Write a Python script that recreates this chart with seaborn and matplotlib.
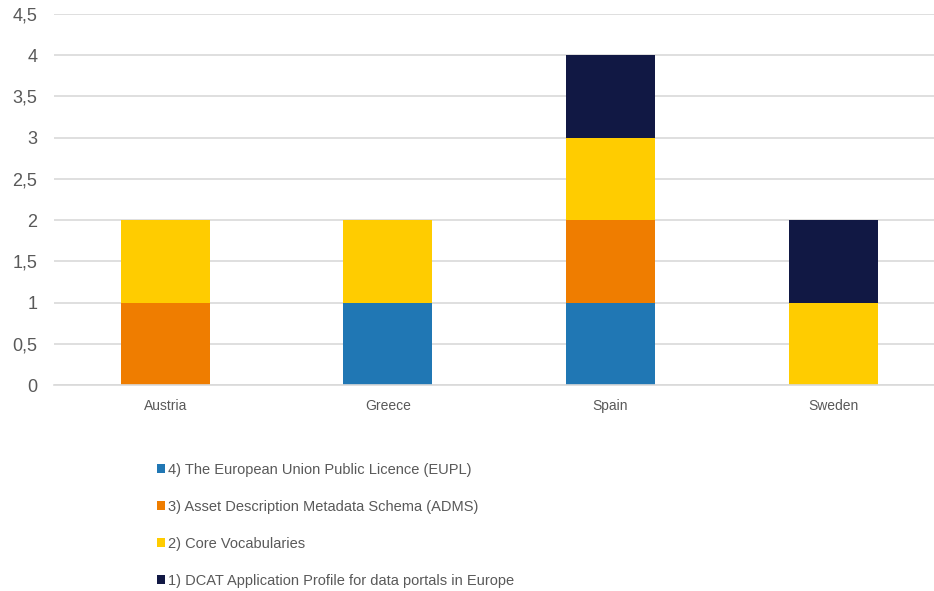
import matplotlib
matplotlib.use("Agg")
import matplotlib.pyplot as plt
from matplotlib.patches import Patch
from matplotlib.ticker import FuncFormatter, MultipleLocator
import seaborn as sns
import pandas as pd
import numpy as np

countries = ["Austria", "Greece", "Spain", "Sweden"]
eupl = [0, 1, 1, 0]
adms = [1, 0, 1, 0]
core_vocab = [1, 1, 1, 1]
dcat = [0, 0, 1, 1]

series_names = [
    "4) The European Union Public Licence (EUPL)",
    "3) Asset Description Metadata Schema (ADMS)",
    "2) Core Vocabularies",
    "1) DCAT Application Profile for data portals in Europe",
]
series_values = [eupl, adms, core_vocab, dcat]
series_colors = ["#2077B4", "#EF7D00", "#FFCC00", "#111844"]

sns.set_theme(style="white")
plt.rcParams["font.family"] = ["Liberation Sans", "DejaVu Sans"]

fig = plt.figure(figsize=(9.34, 5.91), dpi=100)
ax = fig.add_axes([54 / 934, (591 - 385) / 591, (934 - 54) / 934, (385 - 14) / 591])

bottom = np.zeros(len(countries))
for name, vals, color in zip(series_names, series_values, series_colors):
    df = pd.DataFrame({"country": countries, "value": vals})
    sns.barplot(data=df, x="country", y="value", color=color, width=0.4,
                bottom=bottom, ax=ax, saturation=1, edgecolor="none",
                linewidth=0, errorbar=None)
    bottom = bottom + np.array(vals)

ax.set_xlim(-0.5, 3.453)
ax.set_ylim(0, 4.5)
ax.yaxis.set_major_locator(MultipleLocator(0.5))
ax.yaxis.set_major_formatter(FuncFormatter(lambda v, p: f"{v:g}".replace(".", ",")))
ax.grid(axis="y", color="#D9D9D9", linewidth=1.2)
ax.set_axisbelow(True)
for side in ["top", "right", "left"]:
    ax.spines[side].set_visible(False)
ax.spines["bottom"].set_color("#D9D9D9")
ax.spines["bottom"].set_linewidth(1.2)
ax.set_xlabel("")
ax.set_ylabel("")
ax.tick_params(axis="y", length=0, labelsize=13, labelcolor="#595959", pad=12)
ax.tick_params(axis="x", length=0, labelsize=10, labelcolor="#595959", pad=10)

handles = [Patch(facecolor=c, edgecolor="none") for c in series_colors]
fig.legend(handles, series_names, loc="upper left",
           bbox_to_anchor=(151 / 934, 1 - 457 / 591), frameon=False,
           fontsize=10.5, labelcolor="#595959", handlelength=0.55,
           handleheight=0.55, handletextpad=0.25, labelspacing=1.58,
           borderaxespad=0)

fig.savefig("out.png", dpi=100)
